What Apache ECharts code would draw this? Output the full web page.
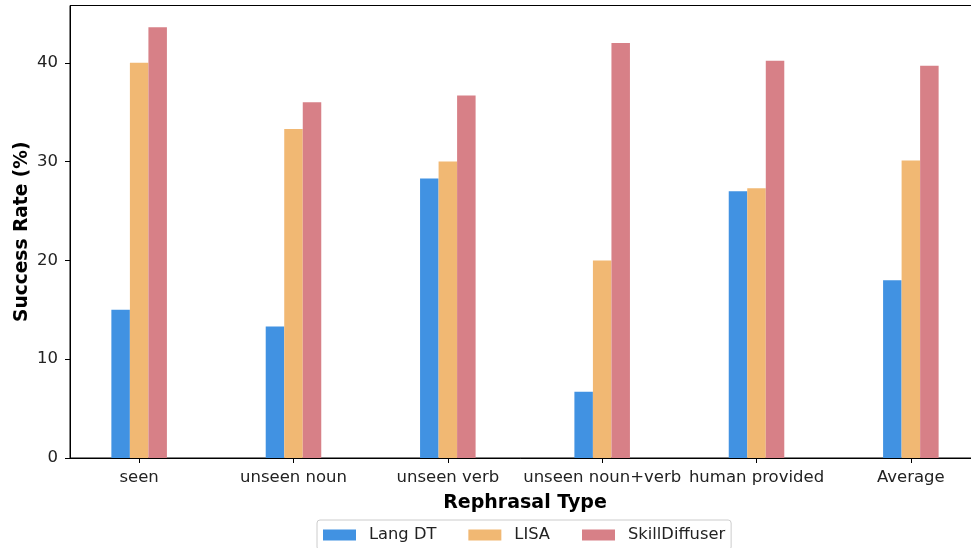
<!DOCTYPE html>
<html><head><meta charset="utf-8">
<script src="https://cdn.jsdelivr.net/npm/echarts@6/dist/echarts.min.js"></script>
<style>html,body{margin:0;padding:0;background:#fff}#c{width:971px;height:548px}</style>
</head><body><div id="c"></div>
<script>
const categories = ['seen', 'unseen noun', 'unseen verb', 'unseen noun+verb', 'human provided', 'Average'];
const langDT = [15.0, 13.3, 28.3, 6.7, 27.0, 18.0];
const lisa = [40.0, 33.3, 30.0, 20.0, 27.3, 30.1];
const skillDiffuser = [43.6, 36.0, 36.7, 42.0, 40.2, 39.7];
const yTicks = [0, 10, 20, 30, 40];

const font = 'DejaVu Sans';
const positions = categories.map((c, i) => i);
function mk(name, vals, off, color) {
  return {
    name, type: 'bar', barWidth: 18.5, barGap: '-100%',
    itemStyle: { color },
    data: vals.map((v, i) => [i + off, v])
  };
}
const chart = echarts.init(document.getElementById('c'));
chart.setOption({
  animation: false,
  grid: { left: 70, top: 5.5, width: 910, height: 452.5, outerBoundsMode: 'none', containLabel: false,
    show: true, borderColor: '#000', borderWidth: 1, backgroundColor: 'transparent' },
  xAxis: {
    type: 'value', min: -0.448, max: 5.448,
    name: 'Rephrasal Type', nameLocation: 'middle', nameGap: 36, nameMoveOverlap: false,
    nameTextStyle: { fontFamily: font, fontSize: 19, fontWeight: 'bold', color: '#000' },
    axisLine: { show: true, onZero: false, lineStyle: { color: '#000', width: 1 } },
    axisTick: { show: true, inside: false, length: 5, lineStyle: { color: '#000' }, customValues: positions },
    axisLabel: { customValues: positions, fontFamily: font, fontSize: 16.5, color: '#222', margin: 11,
      formatter: v => categories[Math.round(v)] },
    splitLine: { show: false }
  },
  yAxis: {
    type: 'value', min: 0, max: 45.8,
    name: 'Success Rate (%)', nameLocation: 'middle', nameGap: 38, nameMoveOverlap: false,
    nameTextStyle: { fontFamily: font, fontSize: 18.6, fontWeight: 'bold', color: '#000' },
    axisLine: { show: true, onZero: false, lineStyle: { color: '#000', width: 1 } },
    axisTick: { show: true, inside: false, length: 5, lineStyle: { color: '#000' }, customValues: yTicks },
    axisLabel: { customValues: yTicks, fontFamily: font, fontSize: 16.5, color: '#222', margin: 12 },
    splitLine: { show: false }
  },
  legend: {
    left: 317, top: 520, orient: 'horizontal', icon: 'rect',
    itemWidth: 33, itemHeight: 11, itemGap: 32,
    padding: [7, 6, 7, 6],
    borderColor: '#ccc', borderWidth: 1, borderRadius: 3,
    textStyle: { fontFamily: font, fontSize: 16.3, color: '#222', padding: [0, 0, 0, 8] },
    data: ['Lang DT', 'LISA', 'SkillDiffuser']
  },
  series: [
    mk('Lang DT', langDT, -0.12, '#4192E2'),
    mk('LISA', lisa, 0, '#F1B873'),
    mk('SkillDiffuser', skillDiffuser, 0.12, '#D78087')
  ]
});
</script></body></html>
